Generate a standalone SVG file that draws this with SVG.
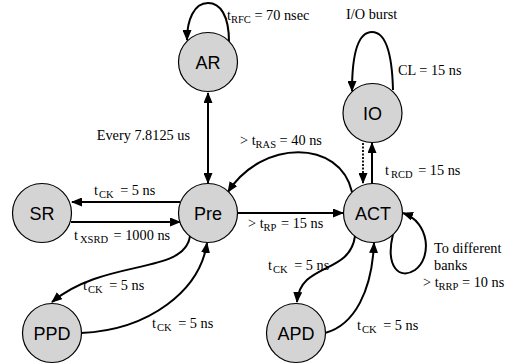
<svg xmlns="http://www.w3.org/2000/svg" width="513" height="364" viewBox="0 0 513 364">
<defs>
<marker id="ah" markerWidth="11" markerHeight="9" refX="10" refY="4.5" orient="auto-start-reverse" markerUnits="userSpaceOnUse">
<path d="M0,0 L11,4.5 L0,9 z" fill="#000"/>
</marker>
<style>
.node circle{fill:#d4d4d4;stroke:#000;stroke-width:1.2}
.node text{font-family:"Liberation Sans",Arial,sans-serif;font-size:18px;text-anchor:middle;fill:#000}
.edge{fill:none;stroke:#000;stroke-width:2}
.arr{marker-end:url(#ah)}
.dot{stroke-dasharray:2 1.5;stroke-width:1.8}
.lbl{font-family:"Liberation Serif","Times New Roman",serif;font-size:14.3px;fill:#000}
.sub{font-size:10.5px}
</style>
</defs>
<g id="connectors">
<path class="edge arr" d="M229,42 C229,15 220,3 208,3 C194,3 187,20 187,40"/>
<path class="edge" d="M208,93 L208,183" marker-start="url(#ah)" marker-end="url(#ah)"/>
<path class="edge arr" d="M180,202 L72,202"/>
<path class="edge arr" d="M71,222 L180,222"/>
<path class="edge arr" d="M237,213 L343,213"/>
<path class="edge arr" d="M352,192 C340,139 262,139 228,192"/>
<path class="edge arr" d="M393,90 C392,50 385,32 372,32 C358,32 352,55 352,91"/>
<path class="edge arr dot" d="M363,143 L363,183"/>
<path class="edge arr" d="M372,184 L372,143"/>
<path class="edge arr" d="M393,234 C385,268 400,280 415,270 C432,258 430,222 403,213"/>
<path class="edge arr" d="M190,236 C185,275 105,258 52,302"/>
<path class="edge arr" d="M81,333 C150,330 200,290 207,243"/>
<path class="edge arr" d="M355,236 C350,275 300,262 297,302"/>
<path class="edge arr" d="M325,333 C355,325 372,290 374,243"/>
</g>
<g id="AR" class="node"><circle cx="208" cy="62" r="29.5"/><text x="208" y="68.5">AR</text></g>
<g id="IO" class="node"><circle cx="372.5" cy="113" r="29.5"/><text x="372.5" y="119.5">IO</text></g>
<g id="SR" class="node"><circle cx="42" cy="213" r="29.5"/><text x="42" y="219.5">SR</text></g>
<g id="Pre" class="node"><circle cx="208" cy="213" r="29.5"/><text x="208" y="219.5">Pre</text></g>
<g id="ACT" class="node"><circle cx="373" cy="213" r="29.5"/><text x="373" y="219.5">ACT</text></g>
<g id="PPD" class="node"><circle cx="52" cy="333" r="29.5"/><text x="52" y="339.5">PPD</text></g>
<g id="APD" class="node"><circle cx="296" cy="333" r="29.5"/><text x="296" y="339.5">APD</text></g>
<g id="labels">
<text class="lbl" x="227" y="20">t<tspan class="sub" dy="3">RFC</tspan><tspan dy="-3"> = 70 nsec</tspan></text>
<text class="lbl" x="346" y="19">I/O burst</text>
<text class="lbl" x="398" y="75">CL = 15 ns</text>
<text class="lbl" x="190" y="140" text-anchor="end">Every 7.8125 us</text>
<text class="lbl" x="94" y="195">t<tspan class="sub" dy="3" dx="1">CK</tspan><tspan dy="-3" dx="3"> = 5 ns</tspan></text>
<text class="lbl" x="74" y="240">t<tspan class="sub" dy="3" dx="2">XSRD</tspan><tspan dy="-3" dx="2"> = 1000 ns</tspan></text>
<text class="lbl" x="240" y="145">&gt; t<tspan class="sub" dy="3">RAS</tspan><tspan dy="-3"> = 40 ns</tspan></text>
<text class="lbl" x="248" y="228">&gt; t<tspan class="sub" dy="3">RP</tspan><tspan dy="-3" dx="1"> = 15 ns</tspan></text>
<text class="lbl" x="385" y="175">t<tspan class="sub" dy="3" dx="2">RCD</tspan><tspan dy="-3" dx="2"> = 15 ns</tspan></text>
<text class="lbl" x="434" y="253">To different</text>
<text class="lbl" x="434" y="270">banks</text>
<text class="lbl" x="423" y="287">&gt; t<tspan class="sub" dy="3">RRP</tspan><tspan dy="-3"> = 10 ns</tspan></text>
<text class="lbl" x="83" y="290">t<tspan class="sub" dy="3" dx="1">CK</tspan><tspan dy="-3" dx="3"> = 5 ns</tspan></text>
<text class="lbl" x="152" y="328">t<tspan class="sub" dy="3" dx="1">CK</tspan><tspan dy="-3" dx="3"> = 5 ns</tspan></text>
<text class="lbl" x="268" y="270">t<tspan class="sub" dy="3" dx="1">CK</tspan><tspan dy="-3" dx="3"> = 5 ns</tspan></text>
<text class="lbl" x="357" y="330">t<tspan class="sub" dy="3" dx="1">CK</tspan><tspan dy="-3" dx="3"> = 5 ns</tspan></text>
</g>
</svg>
